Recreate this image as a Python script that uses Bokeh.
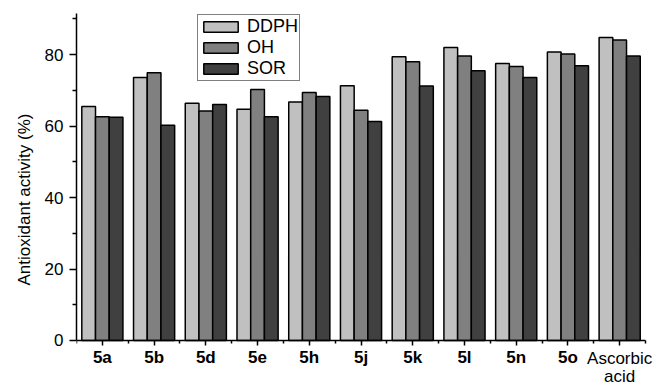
from bokeh.plotting import figure
from bokeh.models import (ColumnDataSource, FixedTicker, Range1d, Legend, LegendItem, Label)
from bokeh.transform import dodge
from bokeh.embed import file_html
from bokeh.resources import INLINE

categories = ["5a", "5b", "5d", "5e", "5h", "5j", "5k", "5l", "5n", "5o", "Ascorbic acid"]
ddph = [65.5, 73.6, 66.4, 64.7, 66.7, 71.3, 79.4, 82.0, 77.5, 80.7, 84.8]
oh = [62.6, 74.9, 64.2, 70.2, 69.4, 64.4, 78.0, 79.6, 76.7, 80.2, 84.1]
sor = [62.5, 60.2, 66.0, 62.6, 68.3, 61.3, 71.2, 75.5, 73.6, 76.9, 79.6]
series_names = ["DDPH", "OH", "SOR"]
series_colors = ["#c0c0c0", "#808080", "#404040"]
y_ticks = [0, 20, 40, 60, 80]
y_minor = [10, 30, 50, 70, 90]
y_top = 91.5

xs = list(range(1, len(categories) + 1))
src = ColumnDataSource(dict(x=xs, DDPH=ddph, OH=oh, SOR=sor))

FONT = "Liberation Sans"

# frame extends below y=0 and right of the last group so the labels live inside it;
# the axes are pinned/bounded to the data area
p = figure(width=659, height=385, output_backend="svg", toolbar_location=None,
           x_range=Range1d(0.5, len(categories) + 0.77), y_range=Range1d(-12.6, y_top),
           min_border_left=76, min_border_right=0, min_border_top=13, min_border_bottom=0)
p.outline_line_color = None
p.xgrid.visible = False
p.ygrid.visible = False
p.background_fill_color = "white"
p.border_fill_color = "white"

bw = 0.265
renderers = []
for i, (name, col) in enumerate(zip(series_names, series_colors)):
    r = p.vbar(x=dodge("x", (i - 1) * bw, range=p.x_range), top=name, width=bw, bottom=0,
               source=src, fill_color=col, line_color="black", line_width=1.5)
    renderers.append(r)

legend = Legend(items=[LegendItem(label=n, renderers=[r]) for n, r in zip(series_names, renderers)],
                location=(121, 304), orientation="vertical")
legend.glyph_width = 43
legend.glyph_height = 13
legend.label_height = 19
legend.spacing = 0
legend.padding = 1
legend.margin = 0
legend.label_standoff = 5
legend.label_text_font = FONT
legend.label_text_font_size = "18px"
legend.label_text_color = "black"
legend.border_line_color = "black"
legend.border_line_width = 1.5
legend.background_fill_alpha = 1
p.add_layout(legend)

# x axis
xa = p.xaxis[0]
xa.fixed_location = 0
xa.bounds = (0.5, len(categories) + 0.5)
xa.ticker = FixedTicker(ticks=xs, minor_ticks=[x + 0.5 for x in range(0, len(categories) + 1)])
overrides = {x: c for x, c in zip(xs, categories)}
overrides[xs[-1]] = ""
xa.major_label_overrides = overrides
xa.major_label_text_font = FONT
xa.major_label_text_font_style = "bold"
xa.major_label_text_font_size = "17px"
xa.major_label_text_color = "black"
xa.major_label_standoff = 3
xa.major_tick_out = 5
xa.major_tick_in = 0
xa.minor_tick_out = 3
xa.minor_tick_in = 0
xa.axis_line_width = 1.5
xa.major_tick_line_width = 1.5
xa.minor_tick_line_width = 1.5
xa.axis_line_color = "black"

for k, word in enumerate(categories[-1].split(" ")):
    p.add_layout(Label(x=xs[-1], y=0, y_offset=-9 - 18 * k, text=word, text_align="center",
                       text_baseline="top", text_font=FONT, text_font_size="17px",
                       text_color="black"))

# y axis
ya = p.yaxis[0]
ya.bounds = (0, y_top)
ya.ticker = FixedTicker(ticks=y_ticks, minor_ticks=y_minor)
ya.major_label_text_font = FONT
ya.major_label_text_font_size = "17px"
ya.major_label_text_color = "black"
ya.major_label_standoff = 6
ya.major_tick_out = 7
ya.major_tick_in = 0
ya.minor_tick_out = 4
ya.minor_tick_in = 0
ya.axis_line_width = 1.5
ya.major_tick_line_width = 1.5
ya.minor_tick_line_width = 1.5
ya.axis_label = "Antioxidant activity (%)"
ya.axis_label_text_font = FONT
ya.axis_label_text_font_size = "17px"
ya.axis_label_text_font_style = "normal"
ya.axis_label_text_color = "black"
ya.axis_label_standoff = 8

open("out.html", "w").write(file_html(p, INLINE))
